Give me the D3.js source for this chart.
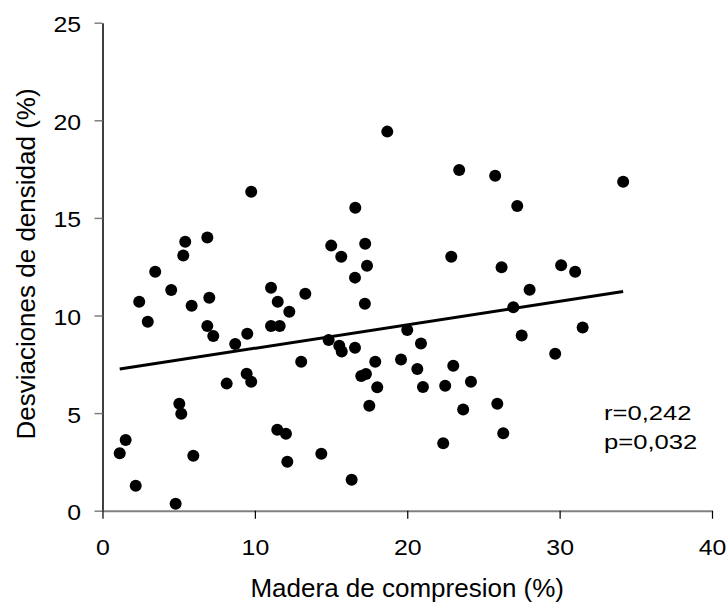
<!DOCTYPE html>
<html>
<head>
<meta charset="utf-8">
<script src="https://cdn.jsdelivr.net/npm/d3@7/dist/d3.min.js"></script>
<style>
  html, body { margin: 0; padding: 0; background: #fff; }
  svg { display: block; font-family: "Liberation Sans", Arial, sans-serif; }
</style>
</head>
<body>
<svg id="chart" width="727" height="607"></svg>
<script>
// Compression wood (%) for each sample
const compresion = [
  18.69, 9.76, 16.59, 5.43, 6.88, 5.30, 15.01, 15.67, 17.24, 23.41,
  25.77, 34.17, 27.22, 22.89, 3.46, 4.51, 2.41, 2.97, 5.85, 7.01,
  6.88, 7.27, 8.71, 9.50, 8.15, 9.46, 9.76, 11.06, 11.50, 11.06,
  11.63, 12.26, 13.31, 13.04, 5.04, 5.17, 1.52, 1.13, 2.18, 4.80,
  5.96, 11.47, 12.04, 12.13, 14.36, 16.35, 17.36, 16.57, 17.22, 14.84,
  15.54, 15.70, 16.57, 17.90, 16.98, 17.29, 18.03, 17.51, 19.59, 20.00,
  26.19, 30.10, 31.02, 28.03, 26.96, 20.90, 27.51, 31.51, 29.71, 20.66,
  23.02, 21.03, 22.49, 24.18, 23.67, 25.91, 26.30, 22.36
];
// Density deviation (%) for the same samples
const densidad = [
  19.42, 16.34, 15.52, 13.78, 13.99, 13.07, 13.58, 13.01, 13.68, 17.45,
  17.16, 16.85, 15.61, 13.01, 12.24, 11.31, 10.71, 9.68, 10.50, 10.91,
  9.46, 8.95, 8.54, 9.07, 6.51, 7.02, 6.61, 11.42, 10.71, 9.46,
  9.46, 10.19, 11.12, 7.63, 5.48, 4.97, 3.62, 2.94, 1.28, 0.36,
  2.82, 4.15, 3.94, 2.51, 2.92, 1.59, 12.55, 11.94, 10.60, 8.74,
  8.45, 8.15, 8.35, 7.63, 6.90, 7.00, 6.32, 5.38, 7.74, 9.26,
  12.47, 12.57, 12.24, 11.32, 10.42, 8.56, 8.97, 9.38, 8.04, 7.26,
  7.43, 6.34, 6.40, 6.61, 5.19, 5.48, 3.97, 3.45
];
// Tick values
const xTicks = [0, 10, 20, 30, 40];
const yTicks = [0, 5, 10, 15, 20, 25];
// Fitted line y = a + b x and its statistics
const intercepto = 7.118;
const pendiente = 0.1203;
const estadisticos = ["r=0,242", "p=0,032"];

const svg = d3.select("#chart");

const x = d3.scaleLinear().domain([0, 40]).range([102.5, 712]);
const y = d3.scaleLinear().domain([0, 25]).range([510.7, 22.7]);

// Y axis
const gy = svg.append("g")
  .attr("transform", `translate(${x(0)},0)`)
  .call(d3.axisLeft(y).tickValues(yTicks).tickFormat(d3.format("d"))
    .tickSize(8).tickSizeOuter(0).tickPadding(11));
gy.select(".domain").attr("stroke", "#000").attr("stroke-width", 1.5);
gy.selectAll(".tick line").attr("stroke", "#808080").attr("stroke-width", 1.5);
gy.selectAll(".tick text")
  .attr("font-size", 22).attr("fill", "#000")
  .attr("font-family", "Liberation Sans, Arial, sans-serif")
  .attr("dy", "0.41em")
  .attr("transform", "scale(1.13,1)");

// X axis
const gx = svg.append("g")
  .attr("transform", `translate(0,${y(0)})`)
  .call(d3.axisBottom(x).tickValues(xTicks).tickFormat(d3.format("d"))
    .tickSize(8).tickSizeOuter(0).tickPadding(21));
gx.select(".domain").attr("stroke", "#808080").attr("stroke-width", 2);
gx.selectAll(".tick line").attr("stroke", "#000").attr("stroke-width", 1.2);
gx.selectAll(".tick text")
  .attr("font-size", 22).attr("fill", "#000")
  .attr("font-family", "Liberation Sans, Arial, sans-serif")
  .attr("transform", "scale(1.13,1)");

// Axis titles
svg.append("text")
  .attr("x", x(20)).attr("y", 597)
  .attr("text-anchor", "middle")
  .attr("font-size", 26)
  .text("Madera de compresion (%)");

svg.append("text")
  .attr("transform", `translate(35,264) rotate(-90)`)
  .attr("text-anchor", "middle")
  .attr("font-size", 26)
  .text("Desviaciones de densidad (%)");

// Points
const puntos = d3.zip(compresion, densidad);
svg.append("g").selectAll("circle")
  .data(puntos)
  .join("circle")
  .attr("cx", d => x(d[0]))
  .attr("cy", d => y(d[1]))
  .attr("r", 6)
  .attr("fill", "#000");

// Regression line over the range of the data
const [x0, x1] = d3.extent(compresion);
const linea = d3.line().x(d => x(d)).y(d => y(intercepto + pendiente * d));
svg.append("path")
  .attr("d", linea([x0, x1]))
  .attr("fill", "none")
  .attr("stroke", "#000")
  .attr("stroke-width", 3);

// Statistics
svg.append("g").selectAll("text")
  .data(estadisticos)
  .join("text")
  .attr("transform", (d, i) => `translate(604,${420 + i * 28.5}) scale(1.22,1)`)
  .attr("font-size", 21)
  .text(d => d);
</script>
</body>
</html>
